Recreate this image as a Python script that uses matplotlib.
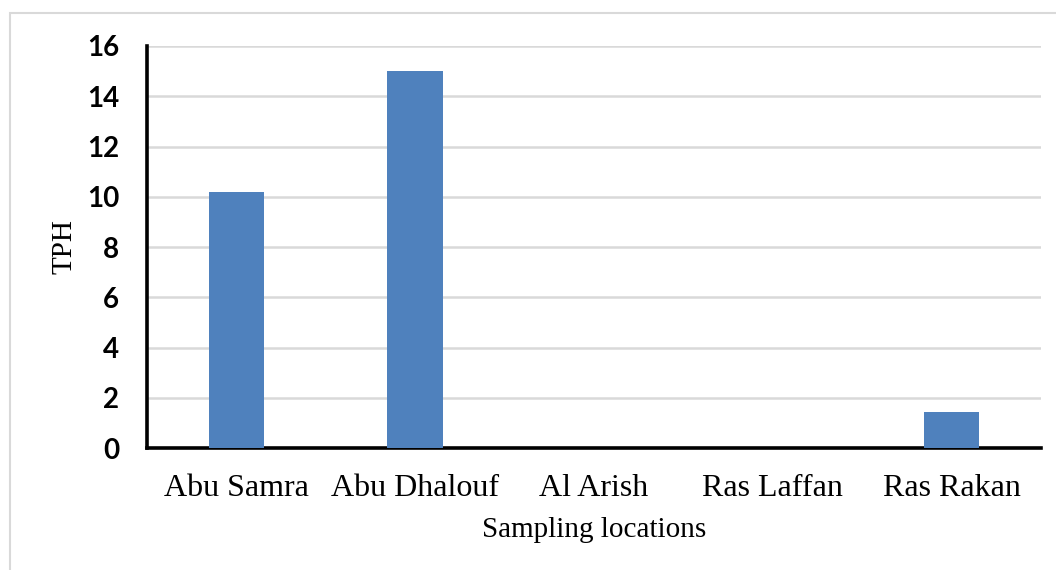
import numpy as np
import matplotlib.pyplot as plt
from matplotlib.patches import Rectangle

locations = ["Abu Samra", "Abu Dhalouf", "Al Arish", "Ras Laffan", "Ras Rakan"]
tph = [10.2, 15.0, 0.0, 0.0, 1.45]
y_ticks = [0, 2, 4, 6, 8, 10, 12, 14, 16]

SERIF = "Liberation Serif"
BAR_COLOR = "#4f81bd"
GRID_COLOR = "#d9d9d9"

fig = plt.figure(figsize=(10.56, 5.70), dpi=100)
ax = fig.add_axes([0.1392, 0.214, 0.8466, 0.7053])

x = np.arange(len(locations))
ax.bar(x, tph, width=0.31, color=BAR_COLOR, zorder=3)

ax.set_xlim(-0.5, len(locations) - 0.5)
ax.set_ylim(0, 16)
ax.set_yticks(y_ticks)
ax.set_yticklabels([str(t) for t in y_ticks], fontfamily="Lato",
                   fontweight="bold", fontsize=20)
ax.set_xticks(x)
ax.set_xticklabels(locations, fontfamily=SERIF, fontsize=23)

ax.tick_params(axis="both", length=0)
ax.tick_params(axis="y", pad=20)
ax.tick_params(axis="x", pad=19)

ax.grid(axis="y", color=GRID_COLOR, linewidth=1.8, zorder=0)
ax.set_axisbelow(True)

for side in ["top", "right"]:
    ax.spines[side].set_visible(False)
for side in ["left", "bottom"]:
    ax.spines[side].set_linewidth(2.6)
    ax.spines[side].set_color("black")

ax.set_ylabel("TPH", fontfamily=SERIF, fontsize=21, labelpad=7)
ax.set_xlabel("Sampling locations", fontfamily=SERIF, fontsize=21, labelpad=10)

# light frame around the chart area
fig.patches.append(Rectangle((10 / 1056, -0.01), 1.1, 1 - 13 / 570 + 0.01,
                             transform=fig.transFigure, fill=False,
                             edgecolor="#d9d9d9", linewidth=1.5))

fig.savefig("out.png", dpi=100)
